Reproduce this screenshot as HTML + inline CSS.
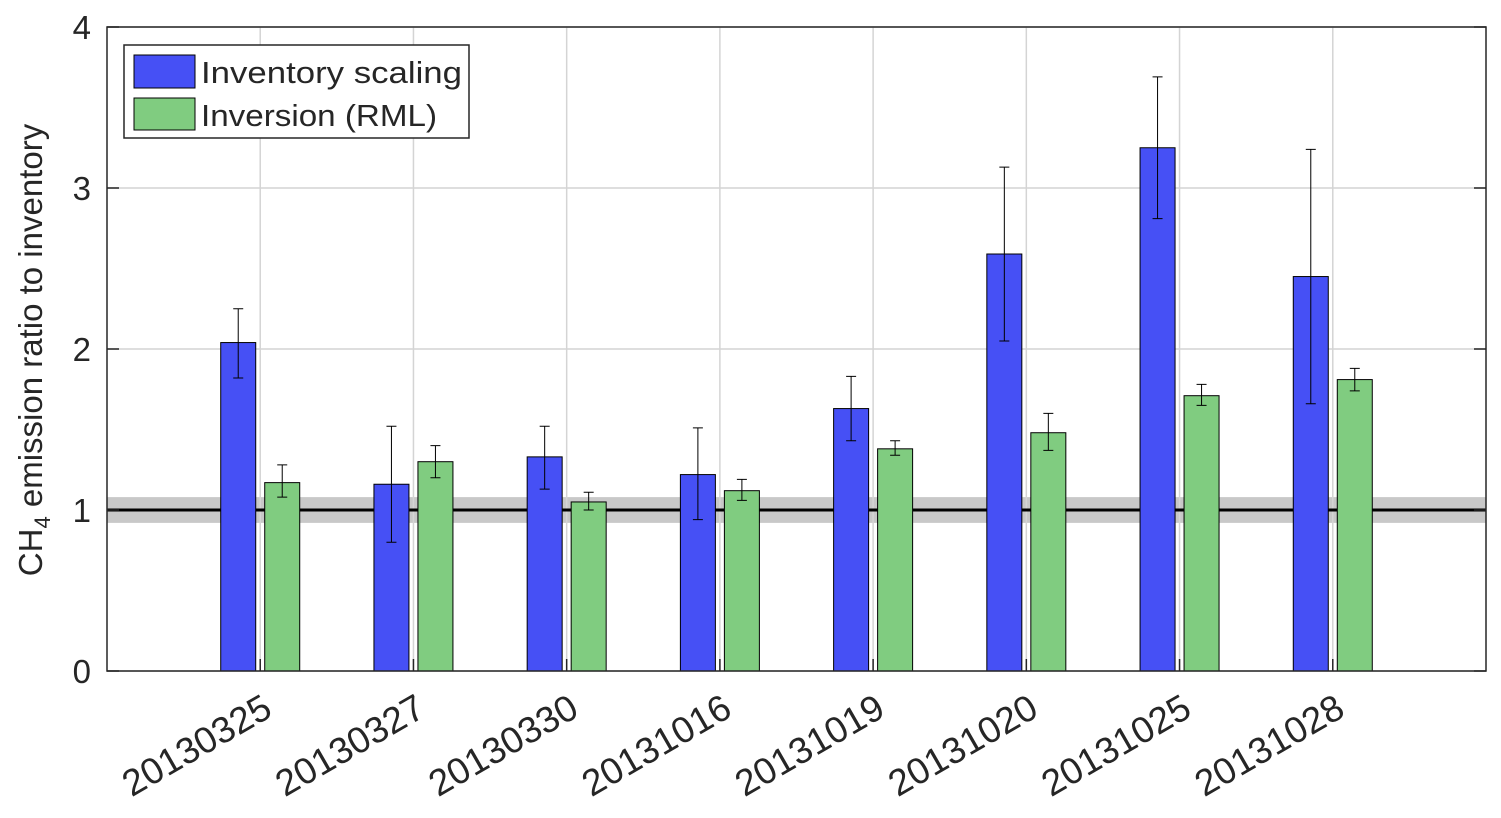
<!DOCTYPE html>
<html><head><meta charset="utf-8"><style>
body{margin:0;background:#fff;}
svg text{font-family:"Liberation Sans",sans-serif;fill:#262626;}
</style></head><body>
<svg id="chart" width="1501" height="813"></svg>
<script>
const categories=["20130325","20130327","20130330","20131016","20131019","20131020","20131025","20131028"];
const blueVals=[2.04,1.16,1.33,1.22,1.63,2.59,3.25,2.45];
const blueLo=[1.82,0.80,1.13,0.94,1.43,2.05,2.81,1.66];
const blueHi=[2.25,1.52,1.52,1.51,1.83,3.13,3.69,3.24];
const greenVals=[1.17,1.30,1.05,1.12,1.38,1.48,1.71,1.81];
const greenLo=[1.08,1.20,1.00,1.06,1.34,1.37,1.65,1.74];
const greenHi=[1.28,1.40,1.11,1.19,1.43,1.60,1.78,1.88];
const yTicks=[0,1,2,3,4];
const band=[0.92,1.08];

const NS="http://www.w3.org/2000/svg";
const svg=document.getElementById('chart');
const L=107,R=1486,T=27,B=671;
const X=v=>L+(R-L)*v/9;
const Y=v=>B-(B-T)*v/4;
function el(tag,attrs,parent){const e=document.createElementNS(NS,tag);for(const k in attrs)e.setAttribute(k,attrs[k]);(parent||svg).appendChild(e);return e;}

let b=el('rect',{x:L,y:Y(band[1]),width:R-L,height:Y(band[0])-Y(band[1]),fill:'#c8c8c8'});


yTicks.forEach(t=>{let g=el('line',{x1:L,x2:R,y1:Y(t),y2:Y(t),stroke:'#d4d4d4','stroke-width':1.5});

});
categories.forEach((c,i)=>{let g=el('line',{x1:X(i+1),x2:X(i+1),y1:T,y2:B,stroke:'#d4d4d4','stroke-width':1.5});

});
let rl=el('line',{x1:L,x2:R,y1:Y(1),y2:Y(1),stroke:'#000','stroke-width':3});



function bar(cx,v,lo,hi,fill,name){
  const w=35;
  let r=el('rect',{x:cx-w/2,y:Y(v),width:w,height:B-Y(v),fill:fill,stroke:'#000','stroke-width':1});
  
  
  let e=el('path',{d:`M${cx},${Y(lo)}V${Y(hi)}M${cx-5},${Y(lo)}H${cx+5}M${cx-5},${Y(hi)}H${cx+5}`,stroke:'#000','stroke-width':1,fill:'none'});
  
  
}
categories.forEach((c,i)=>{
  const cx=X(i+1);
  bar(cx-22,blueVals[i],blueLo[i],blueHi[i],'#4650f5','bar-inventory-scaling');
  bar(cx+22,greenVals[i],greenLo[i],greenHi[i],'#80cc80','bar-inversion-rml');
  let tk=el('line',{x1:cx,x2:cx,y1:B,y2:B-12,stroke:'#262626','stroke-width':1.5});
  
  
  let t=el('text',{x:0,y:0,'font-size':37,'text-anchor':'end',transform:`translate(${cx+14},${B+44}) rotate(-30)`});
  t.textContent=c;
  
  
});
let ax=el('rect',{x:L,y:T,width:R-L,height:B-T,fill:'none',stroke:'#262626','stroke-width':1.5});


yTicks.forEach(t=>{
  let tk=el('path',{d:`M${L},${Y(t)}H${L+12}M${R},${Y(t)}H${R-12}`,stroke:'#262626','stroke-width':1.5});
  
  
  let tl=el('text',{x:L-16,y:Y(t)+12,'font-size':33,'text-anchor':'end'});
  tl.textContent=t;
  
  
});
</script>
<svg style="position:absolute;left:0;top:0" width="1501" height="813">
<text transform="translate(42,350) rotate(-90)" text-anchor="middle" font-size="33">CH<tspan font-size="22" dy="8">4</tspan><tspan dy="-8"> emission ratio to inventory</tspan></text>
<g>
<rect x="124" y="45" width="345" height="93" fill="#fff" stroke="#262626" stroke-width="1.5"/>
<rect x="134" y="55" width="61" height="33" fill="#4650f5" stroke="#000"/>
<text x="201" y="83" font-size="31" textLength="261" lengthAdjust="spacingAndGlyphs">Inventory scaling</text>
<rect x="134" y="98" width="61" height="32" fill="#80cc80" stroke="#000"/>
<text x="201" y="126" font-size="31" textLength="236" lengthAdjust="spacingAndGlyphs">Inversion (RML)</text>
</g>
</svg>
</body></html>
